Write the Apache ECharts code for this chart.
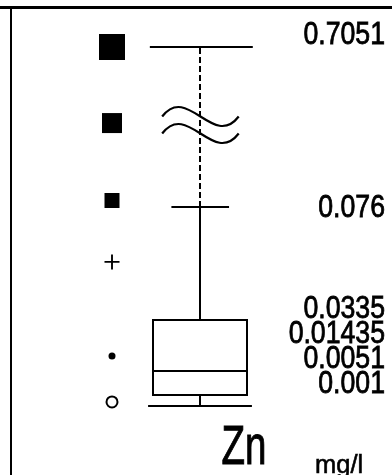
<!DOCTYPE html>
<html><head><meta charset="utf-8">
<script src="https://cdn.jsdelivr.net/npm/echarts@6/dist/echarts.min.js"></script>
<style>html,body{margin:0;padding:0;background:#fff}#c{width:392px;height:475px}</style>
</head><body><div id="c"></div>
<script>
// ---- data ----
const elementName = 'Zn';
const unitName = 'mg/l';
const maxValue = 0.7051;
const upperWhisker = 0.076;
const q3 = 0.0335;
const median = 0.01435;
const q1 = 0.0051;
const minValue = 0.001;
const upperLabels = ['0.7051', '0.076'];
const lowerLabels = ['0.0335', '0.01435', '0.0051', '0.001'];
const upperSymbolValues = [0.7051, 0.406, 0.1016];
const lowerSymbolValues = [0.0553, 0.0198, 0.0025];

const FONT = 'Liberation Sans';
const BLACK = '#000';
const chart = echarts.init(document.getElementById('c'), null, {renderer: 'canvas'});

function seg(x1, y1, x2, y2, extra) {
  return {type: 'line', shape: {x1: x1, y1: y1, x2: x2, y2: y2},
    style: Object.assign({stroke: BLACK, lineWidth: 2, fill: null}, extra || {})};
}
function numText(x, y, t) {
  return {type: 'text', x: x, y: y, scaleX: 0.86,
    style: {text: t, x: 0, y: 0, align: 'right', verticalAlign: 'middle',
      fontSize: 31, fontFamily: FONT, fill: BLACK, stroke: BLACK, lineWidth: 0.8}};
}
function wave(x0, y0, len, h) {
  return {type: 'bezierCurve',
    shape: {x1: x0, y1: y0, cpx1: x0 + len / 3, cpy1: y0 - h, cpx2: x0 + 2 * len / 3, cpy2: y0 + h, x2: x0 + len, y2: y0},
    style: {stroke: BLACK, lineWidth: 2.2, fill: null}};
}

function renderUpper(params, api) {
  const xc = api.value(0);
  const pLow = api.coord([xc, api.value(1)]);
  const pTop = api.coord([xc, api.value(2)]);
  const u = api.size([1, 0])[0];
  const bx = Math.round(pTop[0]);
  const labelX = api.coord([4, 0])[0] + 9;
  const midY = (pLow[1] + pTop[1]) / 2 - 2;
  return {type: 'group', children: [
    seg(bx, pLow[1], bx, pTop[1], {lineDash: [6, 3]}),
    seg(bx - 0.57 * u, Math.round(pTop[1]), bx + 0.6 * u, Math.round(pTop[1])),
    wave(bx - 0.43 * u, midY - 8.5, 0.87 * u, 33),
    wave(bx - 0.43 * u, midY + 8.5, 0.87 * u, 33),
    numText(labelX, pTop[1] - 12, upperLabels[0]),
    numText(labelX, pLow[1] + 1, upperLabels[1])
  ]};
}

function renderLower(params, api) {
  const xc = api.value(0);
  const pMin = api.coord([xc, api.value(1)]);
  const pQ1 = api.coord([xc, api.value(2)]);
  const pMed = api.coord([xc, api.value(3)]);
  const pQ3 = api.coord([xc, api.value(4)]);
  const pW = api.coord([xc, api.value(5)]);
  const pZero = api.coord([xc, 0]);
  const u = api.size([1, 0])[0];
  const bx = Math.round(pQ3[0]);
  const half = 0.535 * u;
  const r = Math.round;
  const children = [
    {type: 'rect', shape: {x: r(bx - half), y: r(pQ3[1]), width: r(2 * half), height: r(pQ1[1]) - r(pQ3[1])},
      style: {stroke: BLACK, lineWidth: 2, fill: null}},
    seg(r(bx - half), r(pMed[1]), r(bx + half), r(pMed[1])),
    seg(bx, r(pQ1[1]), bx, r(pMin[1])),
    seg(bx - 0.59 * u, r(pMin[1]), bx + 0.59 * u, r(pMin[1])),
    seg(bx, r(pW[1]), bx, r(pQ3[1])),
    seg(bx - 0.325 * u, r(pW[1]), bx + 0.33 * u, r(pW[1]))
  ];
  // labels stacked upward from the bottom so they do not overlap
  const labelX = api.coord([4, 0])[0] + 9;
  const ys = [pMin[1], pQ1[1], pMed[1], pQ3[1]];
  let prev = pZero[1] + 1;
  for (let i = 0; i < ys.length; i++) {
    const y = Math.min(ys[i], prev - 25);
    children.push(numText(labelX, y, lowerLabels[lowerLabels.length - 1 - i]));
    prev = y;
  }
  return {type: 'group', children: children};
}

const plusPath = 'path://M7 0H9V7H16V9H9V16H7V9H0V7H7Z';

const option = {
  animation: false,
  backgroundColor: '#fff',
  grid: [
    {left: 24, right: 16, top: 47, height: 160},
    {left: 24, right: 16, top: 207, height: 201.6},
    {left: 0, right: 0, top: 7, bottom: 0}
  ],
  xAxis: [
    {gridIndex: 0, type: 'value', min: 0, max: 4, show: false},
    {gridIndex: 1, type: 'value', min: 0, max: 4, show: false},
    {gridIndex: 2, type: 'value', min: 0, max: 1, position: 'top',
      axisLine: {show: true, onZero: false, lineStyle: {color: BLACK, width: 3}},
      axisTick: {show: false}, axisLabel: {show: false}, splitLine: {show: false}}
  ],
  yAxis: [
    {gridIndex: 0, type: 'value', min: upperWhisker, max: maxValue, show: false},
    {gridIndex: 1, type: 'value', min: 0, max: upperWhisker, show: false},
    {gridIndex: 2, type: 'value', min: 0, max: 1, position: 'left', offset: -11,
      axisLine: {show: true, onZero: false, lineStyle: {color: BLACK, width: 2}},
      axisTick: {show: false}, axisLabel: {show: false}, splitLine: {show: false}}
  ],
  series: [
    {type: 'custom', xAxisIndex: 0, yAxisIndex: 0, clip: false, silent: true,
      renderItem: renderUpper, data: [[2, upperWhisker, maxValue]]},
    {type: 'custom', xAxisIndex: 1, yAxisIndex: 1, clip: false, silent: true,
      renderItem: renderLower, data: [[2, minValue, q1, median, q3, upperWhisker]]},
    {type: 'scatter', xAxisIndex: 0, yAxisIndex: 0, clip: false, silent: true,
      symbol: 'rect', itemStyle: {color: BLACK, opacity: 1},
      data: [
        {value: [1, upperSymbolValues[0]], symbolSize: 26},
        {value: [1, upperSymbolValues[1]], symbolSize: 20},
        {value: [1, upperSymbolValues[2]], symbolSize: 15}
      ]},
    {type: 'scatter', xAxisIndex: 1, yAxisIndex: 1, clip: false, silent: true,
      itemStyle: {opacity: 1},
      data: [
        {value: [1, lowerSymbolValues[0]], symbol: plusPath, symbolSize: 15, itemStyle: {color: BLACK, opacity: 1}},
        {value: [1, lowerSymbolValues[1]], symbol: 'circle', symbolSize: 7, itemStyle: {color: BLACK, opacity: 1}},
        {value: [1, lowerSymbolValues[2]], symbol: 'emptyCircle', symbolSize: 11,
          itemStyle: {color: BLACK, borderColor: BLACK, borderWidth: 1.8, opacity: 1}}
      ]}
  ],
  graphic: [
    {type: 'text', x: 244, y: 449, scaleX: 0.7, silent: true,
      style: {text: elementName, x: 0, y: 0, align: 'center', verticalAlign: 'middle',
        fontSize: 55, fontFamily: FONT, fill: BLACK, stroke: BLACK, lineWidth: 1}},
    {type: 'text', x: 315, y: 466, scaleX: 0.98, silent: true,
      style: {text: unitName, x: 0, y: 0, align: 'left', verticalAlign: 'middle',
        fontSize: 26, fontFamily: FONT, fill: BLACK, stroke: BLACK, lineWidth: 0.6}}
  ]
};
chart.setOption(option);
</script></body></html>
